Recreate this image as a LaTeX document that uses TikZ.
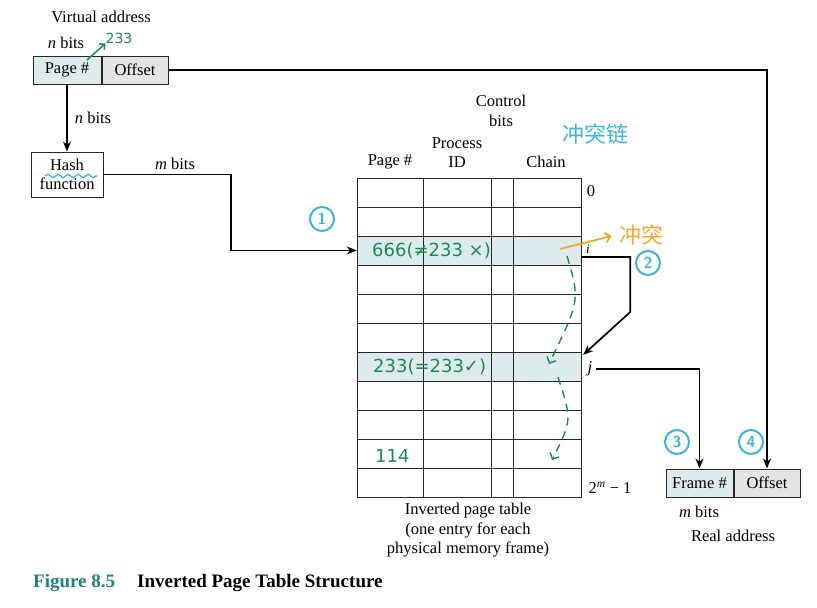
\documentclass[tikz,border=0pt]{standalone}
\usepackage{fontspec}
\setmainfont{Liberation Serif}
\newfontfamily\cjk{Noto Sans CJK SC}
\newfontfamily\hand{DejaVu Sans}
\usetikzlibrary{calc,arrows.meta,decorations.pathmorphing}

\definecolor{boxblue}{HTML}{DDEBEC}
\definecolor{boxgray}{HTML}{E4E4E4}
\definecolor{figteal}{HTML}{1F7F7F}
\definecolor{notegreen}{HTML}{1B8A55}
\definecolor{noteblue}{HTML}{3BB4E3}
\definecolor{noteorange}{HTML}{F4A62A}

\begin{document}
\begin{tikzpicture}[x=1pt,y=-1pt, font=\fontsize{16.5}{19.5}\selectfont,
  feld/.style={draw=black!85, line width=1pt, inner sep=0pt, minimum height=28pt},
  zeile/.style={inner sep=0pt, minimum width=224pt, minimum height=29pt},
  gitter/.style={draw=black!85, line width=1pt},
  pfeil/.style={line width=1.7pt, -{Stealth[length=10pt,width=8pt]}},
  notiz/.style={text=notegreen, font=\hand\fontsize{18}{18}\selectfont, inner sep=0pt},
  gestrichelt/.style={notegreen, line width=1.4pt, dash pattern=on 8pt off 6pt, -{Straight Barb[length=5pt,width=10pt]}},
  kreis/.style={draw=noteblue, text=noteblue, circle, line width=2pt, inner sep=0pt, minimum size=24pt, font=\sffamily\bfseries\fontsize{16}{16}\selectfont}]
\useasboundingbox (0,0) rectangle (817,608);

%VIRTUELLE ADRESSE
\node (vtitle) at (101,17) {Virtual address};
\node (vbits) at (66,43) {\textit{n} bits};
\node[feld, fill=boxblue, minimum width=68pt] (vpage) at (67,70) {Page \#};
\node[feld, fill=boxgray, minimum width=66pt, anchor=west] (voff) at (vpage.east) {Offset};

%HASH-FUNKTION
\node[feld, minimum width=72pt, minimum height=45pt, align=center] (hash) at (67,174.5) {Hash\\function};
\node (hbits) at (93,118) {\textit{n} bits};
\node (mbits) at (175,164) {\textit{m} bits};
\coordinate (knickA) at (231,250.5);

%TABELLE: MARKIERTE ZEILEN i UND j
\node[zeile, fill=boxblue] (rowi) at (469,250.5) {};
\node[zeile, fill=boxblue] (rowj) at (469,366.5) {};

%TABELLE: GITTER (11 ZEILEN, 4 SPALTEN)
\foreach \r in {0,...,10}
  \draw[gitter] (357,{178+29*\r}) rectangle (581,{207+29*\r});
\foreach \x in {423,491,513}
  \draw[gitter] (\x,178) -- (\x,497);

%TABELLE: KOPF
\node (hpage) at (390,162) {Page \#};
\node[align=center] (hproc) at (457,152.5) {Process\\ID};
\node[align=center] (hctrl) at (501,111) {Control\\bits};
\node (hchain) at (546,162) {Chain};

%TABELLE: ZEILENNUMMERN
\node (lab0) at (591,191) {0};
\node[font=\fontsize{13}{13}\selectfont] (labi) at (588,249) {\textit{i}};
\node (jlab) at (590,369) {\textit{j}};
\node (labm) at (610,488) {2\textsuperscript{\textit{m}} − 1};
\node[align=center] (tcap) at (468,530.5) {Inverted page table\\(one entry for each\\physical memory frame)};

%REALE ADRESSE
\node[feld, fill=boxblue, minimum width=67pt] (frame) at (699.5,483) {Frame \#};
\node[feld, fill=boxgray, minimum width=66pt, anchor=west] (roff) at (frame.east) {Offset};
\node (rbits) at (699,512) {\textit{m} bits};
\node (rtitle) at (733,536) {Real address};

%VERBINDUNGEN
\draw[pfeil] (vpage.south) -- (hash.north);
\draw[pfeil] (hash.east) -| (knickA) -- (rowi.west);
\draw[pfeil] (voff.east) -| (roff.north);
\draw[pfeil] ($(rowi.east)+(0,6.5)$) -- ++(49,0) -- ++(0,55) -- ($(rowj.north east)+(2,3)$);
\draw[pfeil] (jlab.east) -| (frame.north);

%BILDUNTERSCHRIFT
\node[anchor=west, inner sep=0pt, text=figteal, font=\bfseries\fontsize{19}{19}\selectfont] (figlab) at (33,583) {Figure 8.5};
\node[anchor=west, inner sep=0pt, font=\bfseries\fontsize{19}{19}\selectfont] (figtitle) at (137,583) {Inverted Page Table Structure};

%HANDSCHRIFTLICHE NOTIZEN
\node[notiz, font=\hand\fontsize{14}{14}\selectfont] (n233) at (119,38) {233};
\draw[notegreen, line width=1.5pt, -{Straight Barb[length=4pt,width=8pt]}] (87,60) -- (n233.south west);
\draw[noteblue, line width=1.3pt, decorate, decoration={snake, amplitude=1.8pt, segment length=10pt}] (45,176) -- (97,176);
\node[kreis] (k1) at (322,219) {1};
\node[notiz, anchor=west] (n666) at (372,250.5) {666(≠233 ×)};
\node[notiz, anchor=west] (nok) at (373,366.5) {233(=233✓)};
\node[notiz, anchor=west] (n114) at (375,456) {114};
\node[text=noteblue, font=\cjk\fontsize{22}{22}\selectfont] (chainnote) at (595,134) {冲突链};
\node[text=noteorange, font=\cjk\fontsize{22}{22}\selectfont] (konflikt) at (641,235) {冲突};
\draw[noteorange, line width=1.8pt, shorten >=4pt, -{Straight Barb[length=5pt,width=10pt]}] (560,249) -- (konflikt.west);
\node[kreis] (k2) at (648,263) {2};
\draw[gestrichelt] (567,256) .. controls (580,300) .. (549,364);
\draw[gestrichelt] (558,377) .. controls (572,420) .. (552,460);
\node[kreis] (k3) at (677,442) {3};
\node[kreis] (k4) at (751,442) {4};

\end{tikzpicture}
\end{document}
